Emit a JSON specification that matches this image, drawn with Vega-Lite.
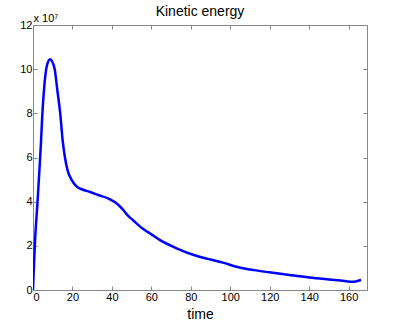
{
  "$schema": "https://vega.github.io/schema/vega-lite/v6.json",
  "width": 334,
  "height": 265,
  "autosize": {"type": "none"},
  "padding": {"left": 33, "top": 25, "right": 33, "bottom": 38},
  "background": "white",
  "title": {"text": "Kinetic energy", "font": "Liberation Sans", "fontSize": 14, "fontWeight": "normal", "color": "black", "offset": 7, "dy": 14},
  "config": {
    "view": {"stroke": null},
    "axis": {"labelFont": "Liberation Sans", "labelFontSize": 11, "labelColor": "black", "domainColor": "#888", "tickColor": "#888", "tickSize": -4, "grid": false, "titleFont": "Liberation Sans", "titleColor": "black", "titleFontWeight": "normal"}
  },
  "data": {"values": [
    {"time": 0, "energy": 0},
    {"time": 0.9, "energy": 20000000},
    {"time": 2.3, "energy": 40000000},
    {"time": 3.3, "energy": 55000000},
    {"time": 4.0, "energy": 66000000},
    {"time": 4.7, "energy": 79000000},
    {"time": 5.7, "energy": 92000000},
    {"time": 6.7, "energy": 100000000},
    {"time": 7.7, "energy": 103500000},
    {"time": 8.7, "energy": 104500000},
    {"time": 9.7, "energy": 103500000},
    {"time": 11.0, "energy": 100000000},
    {"time": 12.4, "energy": 90000000},
    {"time": 13.8, "energy": 80000000},
    {"time": 15.0, "energy": 68000000},
    {"time": 16.2, "energy": 60000000},
    {"time": 17.5, "energy": 54300000},
    {"time": 19.5, "energy": 50000000},
    {"time": 22.2, "energy": 46800000},
    {"time": 25.0, "energy": 45500000},
    {"time": 28.6, "energy": 44500000},
    {"time": 33.0, "energy": 43000000},
    {"time": 38.8, "energy": 41200000},
    {"time": 42.0, "energy": 39500000},
    {"time": 45.5, "energy": 36500000},
    {"time": 48.0, "energy": 33800000},
    {"time": 50.6, "energy": 31700000},
    {"time": 55.6, "energy": 27800000},
    {"time": 60.0, "energy": 25200000},
    {"time": 64.0, "energy": 22800000},
    {"time": 72.5, "energy": 19000000},
    {"time": 82.7, "energy": 15500000},
    {"time": 90.0, "energy": 13800000},
    {"time": 96.2, "energy": 12400000},
    {"time": 104.6, "energy": 10200000},
    {"time": 112.0, "energy": 9000000},
    {"time": 119.8, "energy": 8000000},
    {"time": 130.0, "energy": 6800000},
    {"time": 140.0, "energy": 5700000},
    {"time": 150.0, "energy": 4800000},
    {"time": 157.0, "energy": 4200000},
    {"time": 162.0, "energy": 3700000},
    {"time": 164.5, "energy": 4100000},
    {"time": 166.3, "energy": 4500000}
  ]},
  "layer": [
    {
      "mark": {"type": "line", "color": "#0000ff", "strokeWidth": 2.5, "clip": true, "interpolate": "monotone"},
      "encoding": {
        "x": {"field": "time", "type": "quantitative", "scale": {"domain": [0, 169.3], "nice": false, "zero": false},
              "axis": {"values": [0, 20, 40, 60, 80, 100, 120, 140, 160], "labelPadding": 5, "title": "time", "titleFontSize": 14, "titleBaseline": "alphabetic", "titleY": 28}},
        "y": {"field": "energy", "type": "quantitative", "scale": {"domain": [0, 120000000], "nice": false},
              "axis": {"values": [0, 20000000, 40000000, 60000000, 80000000, 100000000, 120000000], "labelExpr": "format(datum.value / 10000000, 'd')", "labelPadding": 5, "title": "x 10⁷", "titleAngle": 0, "titleAlign": "left", "titleBaseline": "alphabetic", "titleX": 0, "titleY": -4, "titleFontSize": 11}}
      }
    },
    {
      "mark": {"type": "line", "opacity": 0},
      "encoding": {
        "x": {"field": "time", "type": "quantitative", "scale": {"domain": [0, 169.3], "nice": false, "zero": false},
              "axis": {"orient": "top", "values": [0, 20, 40, 60, 80, 100, 120, 140, 160], "labels": false, "title": null}},
        "y": {"field": "energy", "type": "quantitative", "scale": {"domain": [0, 120000000], "nice": false},
              "axis": {"orient": "right", "values": [0, 20000000, 40000000, 60000000, 80000000, 100000000, 120000000], "labels": false, "title": null}}
      }
    }
  ],
  "resolve": {"axis": {"x": "independent", "y": "independent"}}
}
